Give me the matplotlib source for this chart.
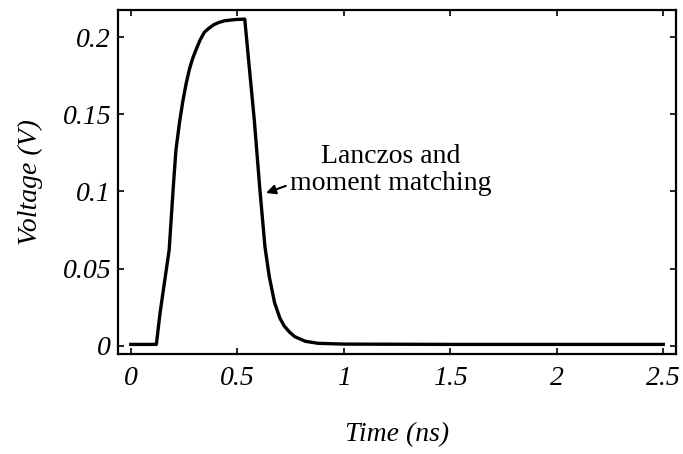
import numpy as np
import matplotlib
matplotlib.use("Agg")
import matplotlib.pyplot as plt

# Transient response (time in ns, voltage in V)
time_ns = [0.0, 0.12, 0.137, 0.16, 0.18, 0.2, 0.212, 0.23, 0.245, 0.26,
           0.275, 0.29, 0.307, 0.325, 0.345, 0.365, 0.39, 0.415, 0.44, 0.47,
           0.5, 0.535, 0.56, 0.58, 0.605, 0.63, 0.65, 0.675, 0.70, 0.72,
           0.745, 0.77, 0.82, 0.88, 1.0, 1.5, 2.0, 2.5]
voltage = [0.001, 0.001, 0.021, 0.043, 0.062, 0.104, 0.127, 0.146, 0.159, 0.170,
           0.179, 0.186, 0.192, 0.198, 0.203, 0.2055, 0.208, 0.2095, 0.2105, 0.211,
           0.2114, 0.2116, 0.175, 0.146, 0.103, 0.064, 0.045, 0.028, 0.018, 0.013,
           0.009, 0.006, 0.003, 0.0017, 0.0012, 0.001, 0.001, 0.001]

xticks = [0, 0.5, 1, 1.5, 2, 2.5]
xtick_labels = ["0", "0.5", "1", "1.5", "2", "2.5"]
yticks = [0, 0.05, 0.1, 0.15, 0.2]
ytick_labels = ["0", "0.05", "0.1", "0.15", "0.2"]

plt.rcParams['font.family'] = ['Liberation Serif', 'DejaVu Serif']

fig = plt.figure(figsize=(6.83, 4.54), dpi=100)
ax = fig.add_axes([0.1728, 0.2203, 0.8170, 0.7577])

ax.plot(time_ns, voltage, color='black', linewidth=2.4)

ax.set_xlim(-0.06, 2.56)
ax.set_ylim(-0.0052, 0.2175)

ax.set_xticks(xticks)
ax.set_xticklabels(xtick_labels, fontstyle='italic', fontsize=20)
ax.set_yticks(yticks)
ax.set_yticklabels(ytick_labels, fontstyle='italic', fontsize=20)
ax.tick_params(direction='in', length=4, width=1.2, top=True, right=True,
               labeltop=False, labelright=False)
ax.tick_params(axis='x', pad=9)
ax.tick_params(axis='y', pad=5)
for sp in ax.spines.values():
    sp.set_linewidth(1.6)

ax.set_xlabel("Time (ns)", fontstyle='italic', fontsize=20, labelpad=22)
ax.set_ylabel("Voltage (V)", fontstyle='italic', fontsize=20, labelpad=14)

ax.annotate("Lanczos and\nmoment matching", xy=(0.635, 0.099), xytext=(1.22, 0.114),
            fontsize=20, ha='center', va='center', linespacing=1.1,
            arrowprops=dict(arrowstyle='-|>', color='black', lw=1.5,
                            shrinkA=1, shrinkB=0, mutation_scale=14,
                            relpos=(0.0, 0.22)))

fig.savefig("out.png", dpi=100)
